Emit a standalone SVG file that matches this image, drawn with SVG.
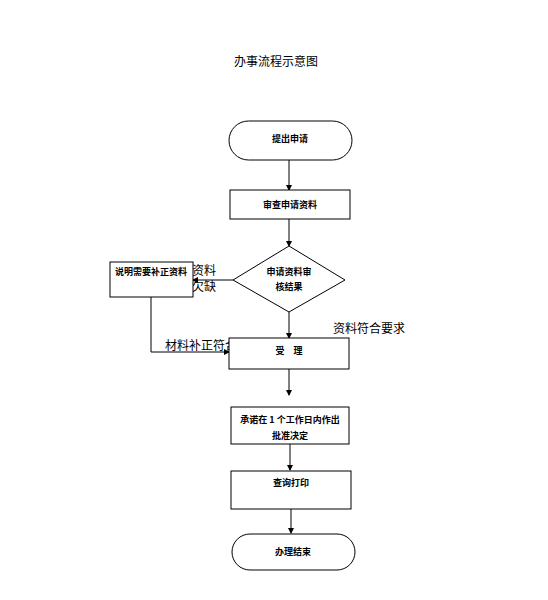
<svg xmlns="http://www.w3.org/2000/svg" width="548" height="600" viewBox="0 0 548 600">
<style>
.shape{fill:#fff;stroke:#000;stroke-width:1}
.ln{fill:none;stroke:#000;stroke-width:1}
.nt{font-family:"Noto Sans CJK SC","Liberation Sans",sans-serif;font-size:9px;font-weight:bold;text-anchor:middle;fill:#000}
.lb{font-family:"Noto Sans CJK SC",sans-serif;font-size:12px;fill:#000}
.title{font-family:"Noto Sans CJK SC",sans-serif;font-size:12px;text-anchor:middle;fill:#000}
</style>
<defs>
<marker id="ah" markerWidth="6" markerHeight="6" refX="5" refY="3" orient="auto" markerUnits="userSpaceOnUse">
<path d="M0,0 L6,3 L0,6 z" fill="#000"/>
</marker>
</defs>
<rect width="548" height="600" fill="#fff"/>
<text class="title" x="276" y="66">办事流程示意图</text>
<g id="labels">
<text class="lb" x="192" y="275">资料</text>
<text class="lb" x="192" y="291">欠缺</text>
<text class="lb" x="165" y="350">材料补正符合</text>
<text class="lb" x="333" y="333">资料符合要求</text>
</g>
<g id="connectors">
<line class="ln" x1="289" y1="160" x2="289" y2="190" marker-end="url(#ah)"/>
<line class="ln" x1="289" y1="219" x2="289" y2="246" marker-end="url(#ah)"/>
<line class="ln" x1="233" y1="280" x2="193" y2="280" marker-end="url(#ah)"/>
<line class="ln" x1="289" y1="312" x2="289" y2="338" marker-end="url(#ah)"/>
<polyline class="ln" points="151,297 151,352 229,352" marker-end="url(#ah)"/>
<line class="ln" x1="289" y1="369" x2="289" y2="395" marker-end="url(#ah)"/>
<line class="ln" x1="290" y1="444" x2="290" y2="470" marker-end="url(#ah)"/>
<line class="ln" x1="291" y1="509" x2="291" y2="533" marker-end="url(#ah)"/>
</g>
<g id="start">
<rect class="shape" x="229" y="121" width="123" height="39" rx="19.5"/>
<text class="nt" x="290" y="142">提出申请</text>
</g>
<g id="review">
<rect class="shape" x="230" y="190" width="120" height="29"/>
<text class="nt" x="290" y="208">审查申请资料</text>
</g>
<g id="decision">
<polygon class="shape" points="289,246 345,280 289,312 233,280"/>
<text class="nt" x="289" y="275">申请资料审</text>
<text class="nt" x="289" y="290">核结果</text>
</g>
<g id="supplement">
<rect class="shape" x="110" y="262" width="83" height="35"/>
<text class="nt" x="151" y="275">说明需要补正资料</text>
</g>
<g id="accept">
<rect class="shape" x="229" y="338" width="120" height="31"/>
<text class="nt" x="289" y="354">受　理</text>
</g>
<g id="promise">
<rect class="shape" x="231" y="407" width="118" height="37"/>
<text class="nt" x="290" y="423">承诺在 1 个工作日内作出</text>
<text class="nt" x="290" y="439">批准决定</text>
</g>
<g id="query">
<rect class="shape" x="231" y="471" width="120" height="38"/>
<text class="nt" x="291" y="486">查询打印</text>
</g>
<g id="end">
<rect class="shape" x="232" y="534" width="123" height="36" rx="18"/>
<text class="nt" x="293" y="555">办理结束</text>
</g>
</svg>
